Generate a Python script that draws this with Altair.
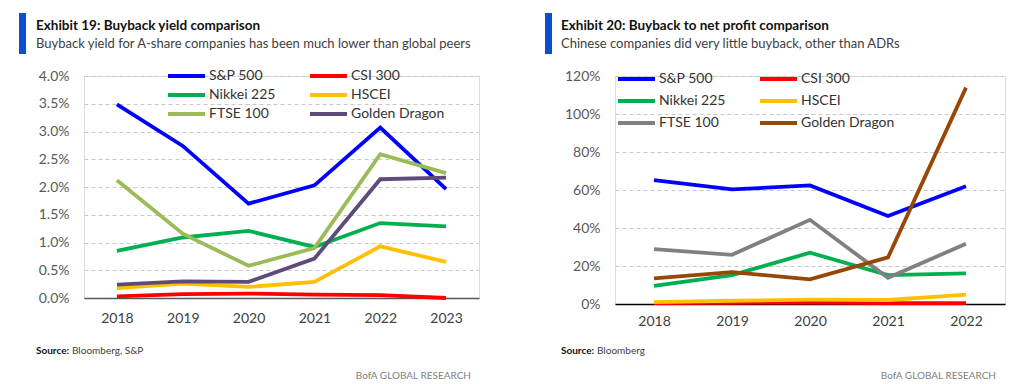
import altair as alt
import pandas as pd

# ---------------- data ----------------
series_names = ["S&P 500", "CSI 300", "Nikkei 225", "HSCEI", "FTSE 100", "Golden Dragon"]

# Exhibit 19: buyback yield (%)
years_19 = ["2018", "2019", "2020", "2021", "2022", "2023"]
yield_sp500 = [3.49, 2.74, 1.70, 2.03, 3.07, 1.96]
yield_csi300 = [0.03, 0.07, 0.08, 0.06, 0.05, 0.00]
yield_nikkei = [0.85, 1.09, 1.21, 0.92, 1.35, 1.29]
yield_hscei = [0.18, 0.26, 0.20, 0.29, 0.93, 0.65]
yield_ftse = [2.12, 1.16, 0.58, 0.90, 2.59, 2.25]
yield_golden = [0.24, 0.30, 0.29, 0.71, 2.14, 2.17]
colors_19 = ["#0000FF", "#FF0000", "#00B050", "#FFC000", "#9BBB59", "#5F4B7B"]

# Exhibit 20: buyback to net profit (%)
years_20 = ["2018", "2019", "2020", "2021", "2022"]
ratio_sp500 = [65.2, 60.3, 62.4, 46.3, 62.0]
ratio_csi300 = [0.5, 0.6, 0.8, 0.5, 0.5]
ratio_nikkei = [9.5, 15.2, 27.0, 15.2, 16.1]
ratio_hscei = [1.0, 1.7, 2.3, 2.1, 4.9]
ratio_ftse = [28.9, 25.9, 44.3, 13.8, 31.7]
ratio_golden = [13.5, 16.8, 13.0, 24.5, 113.9]
colors_20 = ["#0000FF", "#FF0000", "#00B050", "#FFC000", "#808080", "#974706"]

title_19 = "Exhibit 19: Buyback yield comparison"
subtitle_19 = "Buyback yield for A-share companies has been much lower than global peers"
source_19 = "Bloomberg, S&P"
title_20 = "Exhibit 20: Buyback to net profit comparison"
subtitle_20 = "Chinese companies did very little buyback, other than ADRs"
source_20 = "Bloomberg"
brand = "BofA GLOBAL RESEARCH"

FONT = "Lato"
# long horizontal stroke as legend symbol (unit path scaled by sqrt(size)/2)
LEGEND_PATH = "M-1,0H6.4"


def long_table(years, series_lists):
    rows = []
    for i, (name, vals) in enumerate(zip(series_names, series_lists)):
        for y, v in zip(years, vals):
            rows.append({"year": y, "series": name, "value": v / 100.0, "series_order": i})
    return pd.DataFrame(rows)


def one(text):
    return pd.DataFrame({"t": [text]})


def panel(df, years, colors, width, height, ymax, ystep, fmt, domain_color,
          x_label_pad, legend_x, legend_y, row_pad, col_pad,
          title, subtitle, source, bar_x, text_x, brand_x):
    tick_vals = [round(i * ystep, 6) for i in range(int(round(ymax / ystep)) + 1)]
    lines = alt.Chart(df).mark_line(strokeWidth=3.8).encode(
        x=alt.X("year:O", sort=years,
                scale=alt.Scale(type="point", padding=0.5),
                axis=alt.Axis(title=None, labelAngle=0, ticks=False, domain=True,
                              domainColor=domain_color, domainWidth=1.5,
                              labelFont=FONT, labelFontSize=14, labelColor="#404040",
                              labelPadding=x_label_pad, grid=False)),
        y=alt.Y("value:Q",
                scale=alt.Scale(domain=[0, ymax], nice=False, zero=True),
                axis=alt.Axis(title=None, values=tick_vals, format=fmt, domain=False,
                              ticks=False, labelFont=FONT, labelFontSize=14,
                              labelColor="#595959", labelPadding=15,
                              grid=True, gridDash=[4, 3], gridColor="#C8C8C8",
                              gridWidth=1)),
        color=alt.Color("series:N", sort=series_names,
                        scale=alt.Scale(domain=series_names, range=colors),
                        legend=alt.Legend(title=None, orient="none",
                                          legendX=legend_x, legendY=legend_y,
                                          columns=2, direction="horizontal",
                                          symbolType=LEGEND_PATH, symbolSize=100,
                                          symbolStrokeWidth=4, symbolOffset=0,
                                          labelFont=FONT, labelFontSize=14,
                                          labelColor="#333333", labelOffset=29,
                                          rowPadding=row_pad, columnPadding=col_pad,
                                          padding=0)),
        order=alt.Order("series_order:Q"),
    )

    bar = alt.Chart(one("")).mark_rect(color="#0B4FD1").encode(
        x=alt.value(bar_x), x2=alt.value(bar_x + 7),
        y=alt.value(-63), y2=alt.value(-22))
    t1 = alt.Chart(one(title)).mark_text(
        align="left", baseline="alphabetic", font=FONT, fontSize=13.5,
        fontWeight="bold", color="#111111").encode(
        text="t:N", x=alt.value(text_x), y=alt.value(-46))
    t2 = alt.Chart(one(subtitle)).mark_text(
        align="left", baseline="alphabetic", font=FONT, fontSize=13,
        color="#404040").encode(
        text="t:N", x=alt.value(text_x), y=alt.value(-28))
    s1 = alt.Chart(one("Source:")).mark_text(
        align="left", baseline="alphabetic", font=FONT, fontSize=10,
        fontWeight="bold", color="#111111").encode(
        text="t:N", x=alt.value(text_x), y=alt.value(278))
    s2 = alt.Chart(one(source)).mark_text(
        align="left", baseline="alphabetic", font=FONT, fontSize=10,
        color="#404040").encode(
        text="t:N", x=alt.value(text_x + 36), y=alt.value(278))
    b = alt.Chart(one(brand)).mark_text(
        align="right", baseline="alphabetic", font=FONT, fontSize=10,
        color="#808080").encode(
        text="t:N", x=alt.value(brand_x), y=alt.value(303))

    return alt.layer(lines, bar, t1, t2, s1, s2, b).properties(width=width, height=height)


df19 = long_table(years_19, [yield_sp500, yield_csi300, yield_nikkei, yield_hscei, yield_ftse, yield_golden])
df20 = long_table(years_20, [ratio_sp500, ratio_csi300, ratio_nikkei, ratio_hscei, ratio_ftse, ratio_golden])

left = panel(df19, years_19, colors_19, 395, 222, 0.04, 0.005, ".1%", "#595959",
             13, 82, -7, 3, 26,
             title_19, subtitle_19, source_19, -65, -48, 387)
right = panel(df20, years_20, colors_20, 390, 228, 1.2, 0.2, ".0%", "#000000",
              10, 1, -4, 6, 26,
              title_20, subtitle_20, source_20, -70, -54, 381)

chart = alt.hconcat(left, right, spacing=136, bounds="flush").resolve_scale(
    color="independent"
).resolve_legend(color="independent").properties(
    padding={"left": 10, "top": 4, "right": 5, "bottom": 5}
).configure_view(stroke=None).configure(font=FONT)

chart.save("out.html", embed_options={"renderer": "svg", "actions": False})
